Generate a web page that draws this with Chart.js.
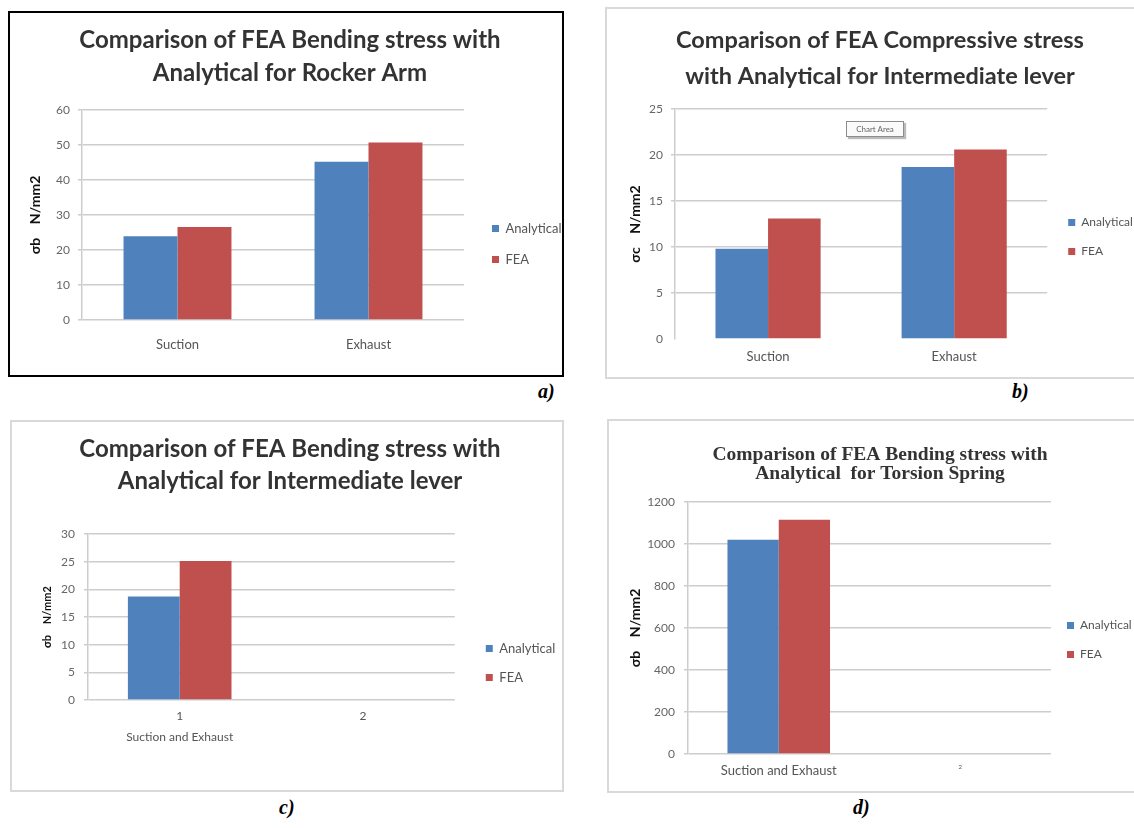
<!DOCTYPE html>
<html>
<head>
<meta charset="utf-8">
<title>Comparison of FEA and analytical stress</title>
<script src="https://cdn.jsdelivr.net/npm/chart.js@4.4.1/dist/chart.umd.min.js"></script>
<style>
  body { margin: 0; background: #fff; }
  #page { position: relative; width: 1134px; height: 828px; overflow: hidden; background: #fff; }
  .frame { position: absolute; box-sizing: border-box; }
  canvas { position: absolute; }
  .cap { position: absolute; font: italic bold 20px "Liberation Serif", "DejaVu Serif", serif; color: #000; }
  .tip {
    position: absolute; left: 846px; top: 121px; width: 58px; height: 16px; box-sizing: border-box;
    border: 1px solid #8c8c8c; background: #fafafa; box-shadow: 2px 2px 1px #bbb;
    font: 8px Lato, sans-serif; color: #666; text-align: center; line-height: 14px;
  }
</style>
</head>
<body>
<div id="page">
  <div class="frame" style="left:8px;top:11px;width:556px;height:366px;border:2px solid #000;"></div>
  <div class="frame" style="left:605px;top:7px;width:531px;height:372px;border:2px solid #d9d9d9;"></div>
  <div class="frame" style="left:10px;top:420px;width:554px;height:372px;border:2px solid #d9d9d9;"></div>
  <div class="frame" style="left:607px;top:419px;width:529px;height:374px;border:2px solid #d9d9d9;"></div>

  <canvas id="chartA"></canvas>
  <canvas id="chartB"></canvas>
  <canvas id="chartC"></canvas>
  <canvas id="chartD"></canvas>

  <div class="tip">Chart Area</div>

  <div class="cap" style="left:538px;top:380px;">a)</div>
  <div class="cap" style="left:1012px;top:380px;">b)</div>
  <div class="cap" style="left:279px;top:796px;">c)</div>
  <div class="cap" style="left:853px;top:796px;">d)</div>
</div>

<script>
const blue = '#4f81bd';
const red = '#c0504d';
const seriesNames = ['Analytical', 'FEA'];

// a) rocker arm, bending
const catsA = ['Suction', 'Exhaust'];
const analyticalA = [23.9, 45.2];
const feaA = [26.6, 50.7];
const yTicksA = [0, 10, 20, 30, 40, 50, 60];

// b) intermediate lever, compressive
const catsB = ['Suction', 'Exhaust'];
const analyticalB = [9.8, 18.7];
const feaB = [13.1, 20.6];
const yTicksB = [0, 5, 10, 15, 20, 25];

// c) intermediate lever, bending
const catsC = [['1', 'Suction and Exhaust'], '2'];
const analyticalC = [18.7, null];
const feaC = [25.1, null];
const yTicksC = [0, 5, 10, 15, 20, 25, 30];

// d) torsion spring, bending
const catsD = ['Suction and Exhaust', '2'];
const analyticalD = [1020, null];
const feaD = [1116, null];
const yTicksD = [0, 200, 400, 600, 800, 1000, 1200];

function makeChart(p) {
  const canvas = document.getElementById(p.id);
  canvas.width = p.box.w;
  canvas.height = p.box.h;
  canvas.style.left = p.box.x + 'px';
  canvas.style.top = p.box.y + 'px';

  // everything below in canvas coordinates
  const plotL = p.plot[0] - p.box.x;
  const plotR = p.plot[1] - p.box.x;
  const plotT = p.plot[2] - p.box.y;
  const plotB = p.plot[3] - p.box.y;
  const legendSize = p.legendSize || 13;
  const legendPad = p.legendStep - legendSize;
  const legendLeft = p.markX - p.box.x - legendPad;
  const titleTop = p.titleY - p.box.y - p.titleStep / 2;
  const titleBottom = plotT - titleTop - p.titleStep * p.title.length;
  const yTitleSize = p.yTitleSize || 14;

  const tickFont = { family: 'Lato', size: 12 };
  const gridColor = '#cdcdcd';

  const chart = new Chart(canvas, {
    type: 'bar',
    data: {
      labels: p.cats,
      datasets: [
        { label: seriesNames[0], data: p.analytical, backgroundColor: blue, yAxisID: 'y',
          categoryPercentage: 0.565, barPercentage: 1 },
        { label: seriesNames[1], data: p.fea, backgroundColor: red, yAxisID: 'y',
          categoryPercentage: 0.565, barPercentage: 1 }
      ]
    },
    options: {
      responsive: false,
      animation: false,
      devicePixelRatio: 1,
      layout: { padding: 0 },
      plugins: {
        title: {
          display: true,
          text: p.title,
          color: '#333',
          font: Object.assign({ lineHeight: p.titleStep / p.titleFont.size }, p.titleFont),
          padding: { top: titleTop, bottom: titleBottom }
        },
        legend: {
          position: 'right',
          // empty legend title only pushes the two entries down
          title: {
            display: true,
            text: ' ',
            font: { size: 1, lineHeight: 1 },
            padding: { top: 2 * p.legendShift - 1, bottom: 0 }
          },
          labels: {
            boxWidth: 7,
            boxHeight: 7,
            padding: legendPad,
            color: '#555',
            font: { family: 'Lato', size: legendSize }
          }
        },
        tooltip: { enabled: false }
      },
      scales: {
        x: {
          grid: { display: false, drawTicks: false },
          border: { display: false },
          ticks: {
            color: '#555',
            padding: p.xPad,
            font: p.xFont || { family: 'Lato', size: 13, lineHeight: 1.2 }
          },
          afterFit: function (s) { s.height = p.box.h - plotB; }
        },
        y: {
          min: p.yTicks[0],
          max: p.yTicks[p.yTicks.length - 1],
          ticks: {
            stepSize: p.yTicks[1] - p.yTicks[0],
            format: { useGrouping: false },
            color: '#666',
            padding: p.yPad,
            font: tickFont
          },
          grid: {
            color: p.hideZero ? (ctx) => (ctx.tick && ctx.tick.value === 0 ? 'rgba(0,0,0,0)' : gridColor) : gridColor,
            lineWidth: 1.5,
            tickLength: 4
          },
          border: { color: gridColor, width: 1.5 },
          title: {
            display: true,
            text: p.yTitle,
            color: '#111',
            font: { family: 'Lato', size: yTitleSize, weight: 'bold', lineHeight: 1.2 },
            padding: { top: 0, bottom: 0 }
          },
          afterFit: function (s) { s.width = plotL; }
        },
        gap: {
          type: 'linear',
          axis: 'y',
          position: 'right',
          grid: { display: false, drawTicks: false },
          border: { display: false },
          ticks: { display: false },
          afterFit: function (s) { s.width = 10; }
        }
      }
    }
  });

  // second pass: place plot, legend and centred title where the reference has them
  const R = p.box.w - legendLeft - chart.legend.width;
  const L = 2 * (p.titleX - p.box.x) - p.box.w + R;
  const o = chart.options;
  o.layout.padding = { left: L, right: R, top: 0, bottom: 0 };
  o.scales.y.afterFit = function (s) { s.width = plotL - L; };
  o.scales.y.title.padding = { top: (p.yTitleX - p.box.x) - L - yTitleSize * 0.6, bottom: 0 };
  o.scales.gap.afterFit = function (s) { s.width = legendLeft - plotR; };
  chart.update('none');
  return chart;
}

const calibri = (size) => ({ family: 'Lato', size: size, weight: 'bold' });

makeChart({
  id: 'chartA',
  box: { x: 10, y: 13, w: 552, h: 362 },
  plot: [82, 464, 110, 320],
  title: ['Comparison of FEA Bending stress with', 'Analytical for Rocker Arm'],
  titleFont: calibri(24), titleX: 290, titleY: 40, titleStep: 33,
  cats: catsA, analytical: analyticalA, fea: feaA, yTicks: yTicksA,
  yTitle: 'σb    N/mm2', yTitleX: 35, yPad: 8, xPad: 17,
  markX: 492, legendStep: 31, legendShift: 50
});

makeChart({
  id: 'chartB',
  box: { x: 607, y: 9, w: 527, h: 368 },
  plot: [675, 1045, 109, 339],
  title: ['Comparison of FEA Compressive stress', 'with Analytical for Intermediate lever'],
  titleFont: calibri(23.5), titleX: 880, titleY: 40, titleStep: 36,
  cats: catsB, analytical: analyticalB, fea: feaB, yTicks: yTicksB, hideZero: true,
  yTitle: 'σc    N/mm2', yTitleX: 635, yPad: 8, xPad: 10,
  markX: 1066, legendStep: 29, legendShift: 44, legendSize: 12
});

makeChart({
  id: 'chartC',
  box: { x: 12, y: 422, w: 550, h: 368 },
  plot: [88, 453, 534, 700],
  title: ['Comparison of FEA Bending stress with', 'Analytical for Intermediate lever'],
  titleFont: calibri(24), titleX: 290, titleY: 449, titleStep: 32,
  cats: catsC, analytical: analyticalC, fea: feaC, yTicks: yTicksC,
  yTitle: 'σb    N/mm2', yTitleX: 47, yTitleSize: 11, yPad: 9, xPad: 6,
  xFont: { family: 'Lato', size: 12, lineHeight: 1.75 },
  markX: 484, legendStep: 29, legendShift: 57
});

makeChart({
  id: 'chartD',
  box: { x: 609, y: 421, w: 525, h: 370 },
  plot: [688, 1050, 502, 754],
  title: ['Comparison of FEA Bending stress with', 'Analytical  for Torsion Spring'],
  titleFont: { family: 'Liberation Serif', size: 19.5, weight: 'bold' }, titleX: 880, titleY: 455, titleStep: 19,
  cats: catsD, analytical: analyticalD, fea: feaD, yTicks: yTicksD,
  yTitle: 'σb    N/mm2', yTitleX: 635, yPad: 9, xPad: 9,
  xFont: (ctx) => ({ family: 'Lato', size: ctx.index === 1 ? 6 : 13, lineHeight: 1.2 }),
  markX: 1066, legendStep: 29, legendShift: 34, legendSize: 12
});
</script>
</body>
</html>
